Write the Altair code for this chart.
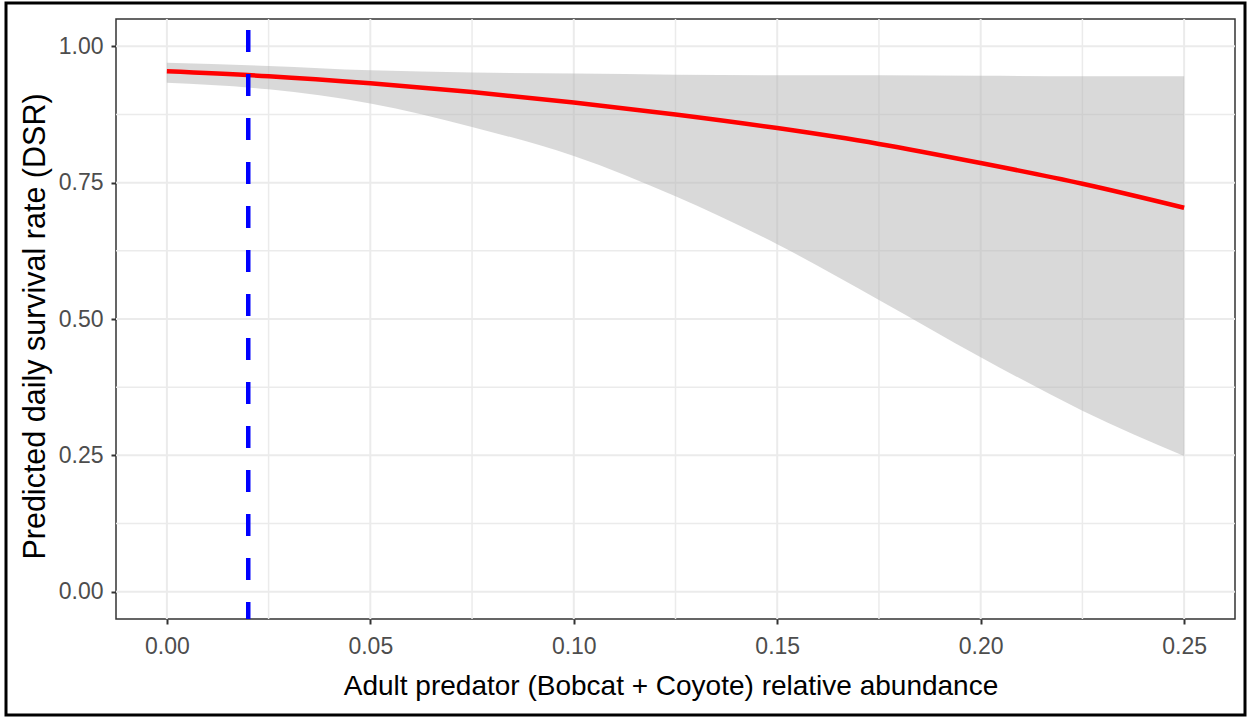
import altair as alt
import pandas as pd

# Predicted daily survival rate (DSR) against adult predator relative abundance
abundance = [0.0, 0.025, 0.05, 0.075, 0.10, 0.125, 0.15, 0.175, 0.20, 0.225, 0.25]
dsr_fit = [0.954, 0.945, 0.932, 0.916, 0.897, 0.875, 0.850, 0.821, 0.786, 0.748, 0.704]
dsr_upper = [0.970, 0.964, 0.956, 0.952, 0.950, 0.948, 0.947, 0.947, 0.946, 0.945, 0.945]
dsr_lower = [0.933, 0.921, 0.895, 0.852, 0.799, 0.725, 0.637, 0.535, 0.430, 0.332, 0.249]

# Observed mean abundance marker
reference_abundance = [0.02]

# Tick and grid positions
x_ticks = [0.0, 0.05, 0.10, 0.15, 0.20, 0.25]
x_minor = [0.025, 0.075, 0.125, 0.175, 0.225]
y_ticks = [0.0, 0.25, 0.50, 0.75, 1.00]
y_minor = [0.125, 0.375, 0.625, 0.875]

X_TITLE = "Adult predator (Bobcat + Coyote) relative abundance"
Y_TITLE = "Predicted daily survival rate (DSR)"

W, H = 1119, 600
FONT = "Liberation Sans"

fit_df = pd.DataFrame({"x": abundance, "fit": dsr_fit, "lo": dsr_lower, "hi": dsr_upper})

x_scale = alt.Scale(domain=[-0.0125, 0.2625], nice=False, zero=False)
y_scale = alt.Scale(domain=[-0.05, 1.05], nice=False, zero=False)

x_axis = alt.Axis(
    values=x_ticks, format=".2f", grid=False, domain=False,
    tickSize=5, tickWidth=2, tickColor="#333333",
    labelFont=FONT, labelFontSize=23, labelColor="#4D4D4D",
    labelPadding=22, labelBaseline="middle", labelFlush=False, labelOverlap=False,
    title=X_TITLE, titleFont=FONT, titleFontSize=28, titleFontWeight="normal",
    titleColor="black", titleX=W / 2 - 5, titleY=67, titleBaseline="middle",
    titleAlign="center",
)
y_axis = alt.Axis(
    values=y_ticks, format=".2f", grid=False, domain=False,
    tickSize=5, tickWidth=2, tickColor="#333333",
    labelFont=FONT, labelFontSize=23, labelColor="#4D4D4D",
    labelPadding=8, labelOverlap=False, labelFlush=False,
    title=Y_TITLE, titleFont=FONT, titleFontSize=30.5, titleFontWeight="normal",
    titleColor="black", titleAngle=270, titleX=-81, titleY=307,
    titleBaseline="middle", titleAlign="center",
)


def xq(field):
    return alt.X(f"{field}:Q", scale=x_scale, axis=x_axis)


def yq(field):
    return alt.Y(f"{field}:Q", scale=y_scale, axis=y_axis)


grid_color = "#EBEBEB"

vx_minor = alt.Chart(pd.DataFrame({"x": x_minor})).mark_rule(
    color=grid_color, strokeWidth=1.5
).encode(x=xq("x"))
vx_major = alt.Chart(pd.DataFrame({"x": x_ticks})).mark_rule(
    color=grid_color, strokeWidth=2
).encode(x=xq("x"))
hy_minor = alt.Chart(pd.DataFrame({"fit": y_minor})).mark_rule(
    color=grid_color, strokeWidth=1.5
).encode(y=yq("fit"))
hy_major = alt.Chart(pd.DataFrame({"fit": y_ticks})).mark_rule(
    color=grid_color, strokeWidth=2
).encode(y=yq("fit"))

ribbon = alt.Chart(fit_df).mark_area(
    color="#B3B3B3", opacity=0.5, interpolate="monotone"
).encode(x=xq("x"), y=yq("lo"), y2="hi:Q")

fit_line = alt.Chart(fit_df).mark_line(
    color="#FF0000", strokeWidth=4.5, interpolate="monotone"
).encode(x=xq("x"), y=yq("fit"))

vline = alt.Chart(pd.DataFrame({"x": reference_abundance})).mark_rule(
    color="#0000FF", strokeWidth=4.5, strokeDash=[22, 22], strokeDashOffset=33
).encode(x=xq("x"))

# thin black frame around the whole figure
frame = alt.Chart(alt.Data(values=[{"k": 0}])).mark_rect(
    fillOpacity=0, stroke="black", strokeWidth=3
).encode(
    x=alt.value(-110), x2=alt.value(1129),
    y=alt.value(-16), y2=alt.value(696),
)

chart = alt.layer(
    vx_minor, vx_major, hy_minor, hy_major, ribbon, fit_line, vline, frame
).properties(
    width=W, height=H,
    padding={"left": 116, "top": 19, "right": 12, "bottom": 98},
    autosize=alt.AutoSizeParams(type="none"),
    background="white",
).configure_view(stroke="#333333", strokeWidth=1.5)

chart.save("out.html", embed_options={"renderer": "svg", "actions": False})
